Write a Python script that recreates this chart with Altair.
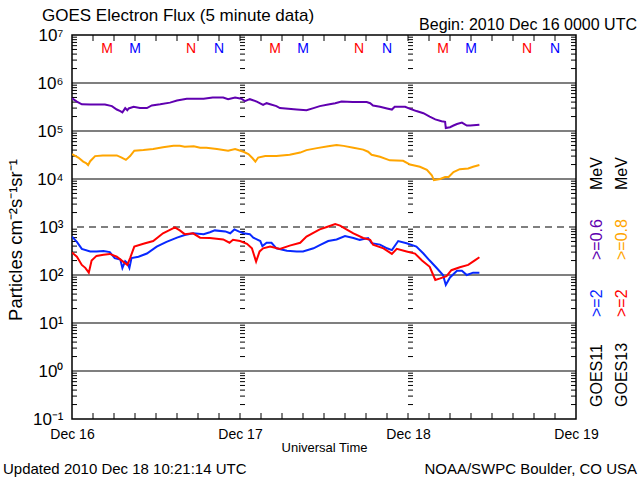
import altair as alt
import pandas as pd

# ---- data (hours since 2010 Dec 16 00:00 UTC, flux) ----
g11_lo_h = [0, 0.7, 1.4, 2.6, 4.7, 5.7, 6.4, 6.9, 7.2, 7.6, 7.9, 8.1, 8.8, 9.7, 10.7, 11.4, 12.6, 14.0,
            15.0, 16.4, 18.8, 20.1, 21.6, 22.3, 23.3, 24.2, 24.7, 25.4, 26.4, 27.3, 27.8, 29.2, 29.7,
            32.1, 33.5, 34.5, 35.4, 36.6, 37.6, 38.5, 40.1, 42.1, 42.6, 43.0, 44.0, 45.0, 45.7, 46.1,
            47.6, 48.3, 49.2, 50.2, 51.1, 51.9, 52.8, 53.3, 53.4, 54.0, 54.5, 55.0, 55.7, 56.4, 56.9, 58.2]
g11_lo_v = [4.8e5, 4.1e5, 3.6e5, 3.55e5, 3.55e5, 3.3e5, 2.8e5, 2.6e5, 2.45e5, 3.0e5, 2.7e5, 2.95e5,
            3.2e5, 3.0e5, 3.0e5, 3.4e5, 3.6e5, 3.9e5, 4.3e5, 4.7e5, 4.7e5, 5.0e5, 5.0e5, 4.6e5, 5.0e5,
            4.7e5, 4.2e5, 4.6e5, 4.1e5, 3.5e5, 3.8e5, 3.3e5, 3.0e5, 2.8e5, 2.7e5, 3.0e5, 3.3e5, 3.55e5,
            3.8e5, 4.1e5, 4.0e5, 4.0e5, 3.8e5, 3.4e5, 3.2e5, 2.95e5, 2.8e5, 3.2e5, 3.2e5, 2.9e5, 2.6e5,
            2.35e5, 2.0e5, 1.75e5, 1.6e5, 1.55e5, 1.15e5, 1.2e5, 1.3e5, 1.4e5, 1.5e5, 1.3e5, 1.3e5, 1.35e5]

g13_lo_h = [0, 0.9, 1.6, 2.0, 2.3, 2.6, 3.3, 4.4, 6.4, 7.1, 7.7, 8.3, 8.9, 10.2, 11.6, 13.0, 14.5, 15.4,
            16.1, 17.4, 18.3, 19.2, 20.7, 22.3, 23.3, 24.5, 25.2, 25.8, 26.2, 26.6, 27.6, 29.2, 31.1,
            32.6, 33.5, 35.0, 36.6, 37.8, 38.8, 40.2, 41.6, 42.3, 42.8, 44.0, 45.4, 47.3, 48.3, 49.7,
            50.7, 51.4, 51.7, 52.6, 53.3, 53.8, 54.5, 55.4, 56.6, 57.3, 58.2]
g13_lo_v = [3.3e4, 2.8e4, 2.3e4, 2.15e4, 1.95e4, 2.35e4, 3.0e4, 3.1e4, 3.1e4, 2.8e4, 2.5e4, 3.0e4,
            3.9e4, 4.0e4, 4.2e4, 4.6e4, 4.9e4, 4.9e4, 4.7e4, 4.8e4, 4.5e4, 4.5e4, 4.2e4, 3.9e4, 4.2e4,
            3.7e4, 3.3e4, 2.7e4, 2.3e4, 2.8e4, 3.0e4, 3.0e4, 3.2e4, 3.55e4, 4.0e4, 4.4e4, 4.8e4, 5.1e4,
            4.9e4, 4.5e4, 4.1e4, 3.7e4, 3.2e4, 2.9e4, 2.45e4, 2.4e4, 2.0e4, 1.8e4, 1.55e4, 1.2e4, 9.5e3,
            1.0e4, 1.1e4, 1.1e4, 1.4e4, 1.6e4, 1.65e4, 1.8e4, 1.95e4]

g11_hi_h = [0, 0.7, 1.4, 2.6, 3.5, 4.5, 5.4, 6.1, 6.9, 7.2, 7.6, 7.9, 8.2, 8.5, 9.5, 10.7, 12.1, 13.5,
            15.0, 16.1, 17.3, 18.8, 19.7, 20.4, 21.9, 22.6, 23.2, 23.8, 24.5, 25.4, 25.9, 26.9, 27.2,
            27.8, 28.5, 29.2, 30.7, 32.1, 33.0, 34.5, 35.4, 36.6, 37.8, 39.0, 40.2, 41.1, 42.3, 42.8,
            44.0, 45.0, 45.7, 46.6, 47.8, 49.2, 50.2, 51.1, 52.1, 53.0, 53.4, 54.0, 55.0, 55.7, 56.4,
            57.3, 58.2]
g11_hi_v = [630, 490, 350, 310, 310, 316, 300, 225, 210, 140, 195, 178, 140, 225, 240, 280, 390, 490,
            600, 680, 740, 710, 780, 850, 810, 740, 890, 810, 740, 710, 600, 510, 400, 470, 470, 360,
            320, 310, 310, 360, 420, 510, 550, 650, 590, 540, 590, 460, 430, 360, 330, 510, 460, 390,
            280, 200, 140, 100, 62, 89, 123, 123, 100, 112, 112]

g13_hi_h = [0, 0.7, 1.4, 1.9, 2.4, 2.8, 3.5, 4.5, 5.4, 6.4, 7.3, 7.9, 8.3, 8.9, 10.2, 11.6, 13.0, 14.0,
            14.7, 15.4, 16.1, 17.3, 18.3, 19.7, 21.6, 22.5, 23.0, 24.0, 25.0, 25.7, 26.3, 26.8, 27.3,
            28.3, 29.7, 31.1, 32.6, 33.5, 35.0, 35.4, 36.4, 37.6, 38.3, 39.2, 40.2, 41.6, 42.6, 43.0,
            44.5, 45.7, 46.4, 47.8, 49.0, 50.0, 51.1, 51.6, 51.9, 52.6, 53.5, 54.2, 55.4, 56.6, 57.6, 58.2]
g13_hi_v = [295, 240, 162, 141, 112, 200, 250, 263, 275, 240, 190, 162, 225, 390, 447, 510, 740, 870,
            980, 850, 710, 740, 600, 590, 550, 470, 540, 510, 447, 360, 190, 310, 360, 390, 350, 410,
            470, 630, 830, 890, 1000, 1150, 1070, 890, 740, 590, 540, 430, 360, 275, 350, 310, 280,
            200, 148, 100, 79, 85, 95, 126, 145, 162, 204, 234]

series_names = ["g11_lo", "g13_lo", "g11_hi", "g13_hi"]
series_colors = ["#6000b0", "#ffa500", "#0828ff", "#ff0000"]

day_labels = ["Dec 16", "Dec 17", "Dec 18", "Dec 19"]
day_hours = [0, 24, 48, 72]
decades = [0.1, 1, 10, 100, 1000, 1e4, 1e5, 1e6, 1e7]
decade_labels = ["10\u207b\u00b9", "10\u2070", "10\u00b9", "10\u00b2", "10\u00b3",
                 "10\u2074", "10\u2075", "10\u2076", "10\u2077"]

marker_hours = [5, 9, 17, 21, 29, 33, 41, 45, 53, 57, 65, 69]
marker_text = ["M", "M", "N", "N"] * 3
marker_color = ["red", "blue", "red", "blue"] * 3

FONT = "Liberation Sans"
W, H = 504, 384

rows = []
for name, hs, vs in [("g11_lo", g11_lo_h, g11_lo_v), ("g13_lo", g13_lo_h, g13_lo_v),
                     ("g11_hi", g11_hi_h, g11_hi_v), ("g13_hi", g13_hi_h, g13_hi_v)]:
    for i, (h, v) in enumerate(zip(hs, vs)):
        rows.append({"s": name, "h": h, "v": v, "o": i})
df = pd.DataFrame(rows)

xscale = alt.Scale(domain=[0, 72], nice=False, zero=False)
yscale = alt.Scale(type="log", domain=[0.1, 1e7], nice=False)

label_map = "{" + ",".join(f"'{h}':'{t}'" for h, t in zip(day_hours, day_labels)) + "}"
ylabel_map = "{" + ",".join(f"'{i}':'{t}'" for i, t in zip(range(-1, 8), decade_labels)) + "}"

xaxis = alt.Axis(values=day_hours, labelExpr=f"{label_map}[''+datum.value]", ticks=False,
                 domain=False, grid=False, labelFont=FONT, labelFontSize=14, labelColor="black",
                 labelPadding=8, labelFlush=False, labelOverlap=False,
                 title="Universal Time", titleFont=FONT, titleFontSize=13,
                 titleFontWeight="normal", titleColor="black", titlePadding=0)
yaxis = alt.Axis(values=decades, labelExpr=f"{ylabel_map}[''+round(log(datum.value)/LN10)]",
                 ticks=False, domain=False, grid=False, labelFont=FONT, labelFontSize=17,
                 labelColor="black", labelPadding=9, labelFlush=False, labelOverlap=False,
                 title=None)

# base layer carries the axes
base = alt.Chart(pd.DataFrame({"h": [0], "v": [1.0]})).mark_point(opacity=0).encode(
    x=alt.X("h:Q", scale=xscale, axis=xaxis),
    y=alt.Y("v:Q", scale=yscale, axis=yaxis),
)

# decade grid lines
grid_df = pd.DataFrame({"v": [1, 10, 100, 1e4, 1e5, 1e6]})
grid = alt.Chart(grid_df).mark_rule(color="black", strokeWidth=1.2).encode(
    y=alt.Y("v:Q", scale=yscale))
dash = alt.Chart(pd.DataFrame({"v": [1000]})).mark_rule(
    color="black", strokeWidth=1.2, strokeDash=[7, 5]).encode(y=alt.Y("v:Q", scale=yscale))

# minor log ticks
minor_vals = [m * 10.0 ** k for k in range(-1, 7) for m in range(2, 10)]
minor_left = pd.DataFrame([{"h": h, "v": v} for h in [0, 24, 48] for v in minor_vals])
minor_right = pd.DataFrame([{"h": 72, "v": v} for v in minor_vals])
mleft = alt.Chart(minor_left).mark_rule(color="black", strokeWidth=1, x2Offset=5).encode(
    x=alt.X("h:Q", scale=xscale), x2="h:Q", y=alt.Y("v:Q", scale=yscale))
mright = alt.Chart(minor_right).mark_rule(color="black", strokeWidth=1, x2Offset=-5).encode(
    x=alt.X("h:Q", scale=xscale), x2="h:Q", y=alt.Y("v:Q", scale=yscale))

# 3-hour ticks at bottom and top
tick_df = pd.DataFrame({"h": list(range(3, 72, 3))})
tb = alt.Chart(tick_df).mark_rule(color="black", strokeWidth=1).encode(
    x=alt.X("h:Q", scale=xscale), y=alt.value(H), y2=alt.value(H - 6))
tt = alt.Chart(tick_df).mark_rule(color="black", strokeWidth=1).encode(
    x=alt.X("h:Q", scale=xscale), y=alt.value(0), y2=alt.value(6))

# flux lines
lines = alt.Chart(df).mark_line(strokeWidth=2, clip=True).encode(
    x=alt.X("h:Q", scale=xscale),
    y=alt.Y("v:Q", scale=yscale),
    color=alt.Color("s:N", scale=alt.Scale(domain=series_names, range=series_colors), legend=None),
    detail="s:N",
    order="o:Q",
)

# M / N markers
mk_df = pd.DataFrame({"h": marker_hours, "t": marker_text, "c": marker_color})
markers = alt.Chart(mk_df).mark_text(font=FONT, fontSize=14, baseline="middle").encode(
    x=alt.X("h:Q", scale=xscale), y=alt.value(14), text="t:N",
    color=alt.Color("c:N", scale=None))

one = pd.DataFrame({"a": [0]})


def txt(s, x, y, size, color="black", align="left", angle=0, baseline="alphabetic"):
    return alt.Chart(one).mark_text(font=FONT, fontSize=size, color=color, align=align,
                                    angle=angle, baseline=baseline).encode(
        x=alt.value(x), y=alt.value(y), text=alt.value(s))


texts = [
    txt("GOES Electron Flux (5 minute data)", -30, -14, 17),
    txt("Begin: 2010 Dec 16 0000 UTC", 565, -5, 16, align="right"),
    txt("Particles cm\u207b\u00b2s\u207b\u00b9sr\u207b\u00b9", -56, 205, 18.5, angle=270,
        align="center", baseline="middle"),
    txt("Updated 2010 Dec 18 10:21:14 UTC", -69, 439, 15),
    txt("NOAA/SWPC Boulder, CO USA", 565, 439, 15, align="right"),
    # right-hand legend (rotated)
    txt("GOES11", 525, 372, 16, angle=270, baseline="middle"),
    txt(">=2", 525, 282, 16, color="#0828ff", angle=270, baseline="middle"),
    txt(">=0.6", 525, 225, 16, color="#6000b0", angle=270, baseline="middle"),
    txt("MeV", 525, 155, 16, angle=270, baseline="middle"),
    txt("GOES13", 550, 372, 16, angle=270, baseline="middle"),
    txt(">=2", 550, 282, 16, color="#ff0000", angle=270, baseline="middle"),
    txt(">=0.8", 550, 225, 16, color="#ffa500", angle=270, baseline="middle"),
    txt("MeV", 550, 155, 16, angle=270, baseline="middle"),
]

chart = alt.layer(base, grid, dash, mleft, mright, tb, tt, lines, markers, *texts).properties(
    width=W, height=H,
    autosize=alt.AutoSizeParams(type="none"),
    padding={"left": 72, "top": 35, "right": 64, "bottom": 61},
    background="white",
).configure_view(stroke="black", strokeWidth=1.5)

chart.save("out.html", embed_options={"renderer": "svg", "actions": False})
